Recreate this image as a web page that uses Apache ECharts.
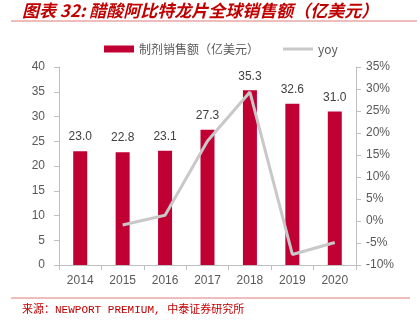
<!DOCTYPE html>
<html><head><meta charset="utf-8">
<script src="https://cdn.jsdelivr.net/npm/echarts@6/dist/echarts.min.js"></script>
<style>html,body{margin:0;padding:0;background:#fff}#c{width:420px;height:321px}</style>
</head><body><div id="c"></div>
<script>
var categories = ['2014','2015','2016','2017','2018','2019','2020'];
var sales = [23.0, 22.8, 23.1, 27.3, 35.3, 32.6, 31.0];
var yoy = [null, -0.9, 1.3, 18.2, 29.3, -7.6, -4.9];
var titleText = '图表 32: 醋酸阿比特龙片全球销售额（亿美元）';
var sourceText = '来源：NEWPORT PREMIUM, 中泰证券研究所';
var seriesNames = ['制剂销售额（亿美元）', 'yoy'];

var chart = echarts.init(document.getElementById('c'), null, {renderer:'canvas'});
var axisColor = '#bfbfbf', labelColor = '#595959';
chart.setOption({
  animation: false,
  textStyle: {fontFamily: 'Liberation Sans, Arial, sans-serif'},
  graphic: [
    {type:'text', left: 22, top: 2, style:{text: titleText, fill:'#c00000', font:'italic bold 17px "Noto Sans CJK SC", sans-serif'}},
    {type:'line', shape:{x1:11, y1:21, x2:417, y2:21}, style:{stroke:'#e07a7a', lineWidth:1}},
    {type:'line', shape:{x1:11, y1:298, x2:410, y2:298}, style:{stroke:'#e07a7a', lineWidth:1}},
    {type:'text', left: 22, top: 305, style:{text: sourceText, fill:'#c00000', font:'11px "Liberation Mono", "Noto Sans CJK SC", monospace'}}
  ],
  legend: {
    left: 99, top: 38, itemWidth: 30, itemHeight: 7, itemGap: 24,
    textStyle: {color: labelColor, fontSize: 12, fontFamily: 'Noto Sans CJK SC, Liberation Sans, sans-serif'},
    data: [{name: seriesNames[0], icon: 'rect'}, {name: seriesNames[1], icon: 'path://M0 0 L30 0 L30 3 L0 3 Z'}]
  },
  grid: {left: 59, right: 64, top: 67, bottom: 56},
  xAxis: {
    type: 'category', data: categories,
    axisLine: {lineStyle:{color: axisColor}},
    axisTick: {show: true, lineStyle:{color: axisColor}},
    axisLabel: {color: labelColor, fontSize: 12, margin: 10}
  },
  yAxis: [
    {type:'value', min:0, max:40, interval:5,
     axisLine:{show:true, lineStyle:{color: axisColor}},
     axisTick:{show:true, lineStyle:{color: axisColor}},
     splitLine:{show:false},
     axisLabel:{color: labelColor, fontSize: 12, margin: 14}},
    {type:'value', min:-10, max:35, interval:5,
     axisLine:{show:true, lineStyle:{color: axisColor}},
     axisTick:{show:true, lineStyle:{color: axisColor}},
     splitLine:{show:false},
     axisLabel:{color: labelColor, fontSize: 12, margin: 10, formatter:'{value}%'}}
  ],
  series: [
    {name: seriesNames[0], type:'bar', data: sales, barWidth: 14, itemStyle:{color:'#c00032'},
     label:{show:true, position:'top', distance: 8, color:'#404040', fontSize: 12, formatter: function(p){return p.value.toFixed(1);}}},
    {name: seriesNames[1], type:'line', yAxisIndex:1, data: yoy, showSymbol:false, symbol:'none',
     lineStyle:{color:'#c8c8c8', width:3}, itemStyle:{color:'#c8c8c8'}, z: 5}
  ]
});
</script></body></html>
